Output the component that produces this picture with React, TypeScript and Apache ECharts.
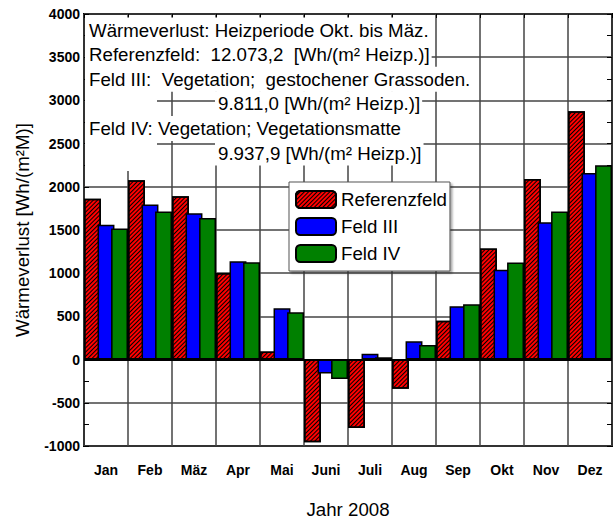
import React, { useEffect, useRef } from "react";
import * as echarts from "echarts";

const months = ["Jan", "Feb", "Mäz", "Apr", "Mai", "Juni", "Juli", "Aug", "Sep", "Okt", "Nov", "Dez"];
const referenzfeld = [1863, 2075, 1890, 1003, 93, -957, -791, -336, 451, 1285, 2091, 2874];
const feldIII = [1562, 1794, 1694, 1138, 594, -162, 69, 212, 617, 1040, 1591, 2161];
const feldIV = [1516, 1713, 1640, 1127, 548, -224, 27, 170, 640, 1123, 1713, 2249];
const yMin = -1000;
const yMax = 4000;
const yStep = 500;

const infoLines = [
  { text: "Wärmeverlust: Heizperiode Okt. bis Mäz.", indent: false },
  { text: "Referenzfeld:  12.073,2  [Wh/(m² Heizp.)]", indent: false },
  { text: "Feld III:  Vegetation;  gestochener Grassoden.", indent: false },
  { text: "9.811,0 [Wh/(m² Heizp.)]", indent: true },
  { text: "Feld IV: Vegetation; Vegetationsmatte", indent: false },
  { text: "9.937,9 [Wh/(m² Heizp.)]", indent: true },
];

const FONT = '"Liberation Sans", Arial, Helvetica, sans-serif';
const BIG = 18.7;

export default function App() {
  const ref = useRef<HTMLDivElement>(null);
  useEffect(() => {
    if (!ref.current) return;
    const chart = echarts.init(ref.current, undefined, { renderer: "svg" });
    const gridLeft = 84;
    const gridTop = 14;
    const lineH = 24.6;
    const graphics: any[] = [
      {
        type: "rect",
        z: 100,
        shape: { x: 85, y: 91, width: 72, height: 80 },
        style: { fill: "#fff" },
      },
    ];
    infoLines.forEach((l, i) => {
      graphics.push({
        type: "text",
        z: 101,
        x: l.indent ? 215 : 85,
        y: gridTop + 16 + i * lineH,
        style: {
          text: l.text,
          font: `${BIG}px ${FONT}`,
          fill: "#000",
          verticalAlign: "middle",
          align: "left",
          lineHeight: 25,
          backgroundColor: "#fff",
          padding: [0, 2, 0, l.indent ? 3 : 4],
        },
      });
    });

    const commonBar = {
      type: "bar",
      barCategoryGap: "0%",
      barGap: "-20%",
    };

    chart.setOption({
      animation: false,
      grid: {
        left: gridLeft,
        top: gridTop,
        width: 528,
        height: 432,
        show: true,
        borderColor: "#000",
        borderWidth: 2,
        backgroundColor: "transparent",
        outerBoundsMode: "none",
        containLabel: false,
      },
      legend: {
        orient: "vertical",
        left: 289,
        top: 182,
        itemWidth: 40,
        itemHeight: 17,
        itemGap: 8,
        padding: [8, 3, 8, 6],
        backgroundColor: "#fff",
        borderColor: "#555",
        borderWidth: 1,
        shadowColor: "rgba(0,0,0,0.35)",
        shadowOffsetX: 2,
        shadowOffsetY: 2,
        shadowBlur: 2,
        textStyle: { fontFamily: FONT, fontSize: BIG, color: "#000", lineHeight: 17 },
        data: ["Referenzfeld", "Feld III", "Feld IV"],
      },
      xAxis: [
        {
          type: "category",
          data: months,
          position: "bottom",
          axisLine: { show: false, onZero: false },
          axisTick: { show: false },
          axisLabel: {
            interval: 0,
            margin: 17,
            color: "#000",
            fontFamily: FONT,
            fontSize: 14,
            fontWeight: "bold",
          },
          splitLine: { show: true, interval: 0, lineStyle: { color: "#444", width: 1.5 } },
          name: "Jahr 2008",
          nameLocation: "middle",
          nameGap: 54,
          nameTextStyle: { fontFamily: FONT, fontSize: BIG, color: "#000" },
        },
        {
          type: "category",
          data: months,
          position: "top",
          axisLine: { show: false, onZero: false },
          axisTick: { show: true, inside: true, length: 4, interval: 0, lineStyle: { color: "#000" } },
          axisLabel: { show: false },
          splitLine: { show: false },
        },
      ],
      yAxis: [
        {
          type: "value",
          min: yMin,
          max: yMax,
          interval: yStep,
          position: "left",
          axisLine: { show: false },
          axisTick: { show: true, inside: true, length: 5, lineStyle: { color: "#000" } },
          minorTick: { show: true, splitNumber: 2, length: 5, lineStyle: { color: "#000" } },
          axisLabel: {
            margin: 4,
            color: "#000",
            fontFamily: FONT,
            fontSize: 14,
            fontWeight: "bold",
            formatter: (v: number) => String(v),
          },
          splitLine: { show: true, lineStyle: { color: "#444", width: 1.5 } },
          name: "Wärmeverlust [Wh/(m²M)]",
          nameLocation: "middle",
          nameGap: 52,
          nameTextStyle: { fontFamily: FONT, fontSize: BIG, color: "#000" },
        },
        {
          type: "value",
          min: yMin,
          max: yMax,
          interval: yStep,
          position: "right",
          axisLine: { show: false },
          axisTick: { show: true, inside: true, length: 5, lineStyle: { color: "#000" } },
          minorTick: { show: true, splitNumber: 2, length: 5, lineStyle: { color: "#000" } },
          axisLabel: { show: false },
          splitLine: { show: false },
        },
      ],
      series: [
        {
          ...commonBar,
          name: "Referenzfeld",
          data: referenzfeld,
          itemStyle: {
            color: "#ff0000",
            borderColor: "#000",
            borderWidth: 1.5,
            decal: {
              symbol: "rect",
              symbolSize: 1,
              color: "#000",
              dashArrayX: [1, 0],
              dashArrayY: [1, 2],
              rotation: -Math.PI / 4,
            },
          },
        },
        {
          ...commonBar,
          name: "Feld III",
          data: feldIII,
          itemStyle: { color: "#0000ff", borderColor: "#000", borderWidth: 1.5 },
        },
        {
          ...commonBar,
          name: "Feld IV",
          data: feldIV,
          itemStyle: { color: "#008000", borderColor: "#000", borderWidth: 1.5 },
          markLine: {
            silent: true,
            symbol: "none",
            label: { show: false },
            lineStyle: { color: "#000", width: 2, type: "solid" },
            data: [{ yAxis: 0 }],
          },
        },
      ],
      graphic: graphics,
    });
    return () => chart.dispose();
  }, []);
  return (
    <div
      ref={ref}
      style={{ position: "absolute", left: 0, top: 0, width: 615, height: 520, background: "#fff" }}
    />
  );
}
